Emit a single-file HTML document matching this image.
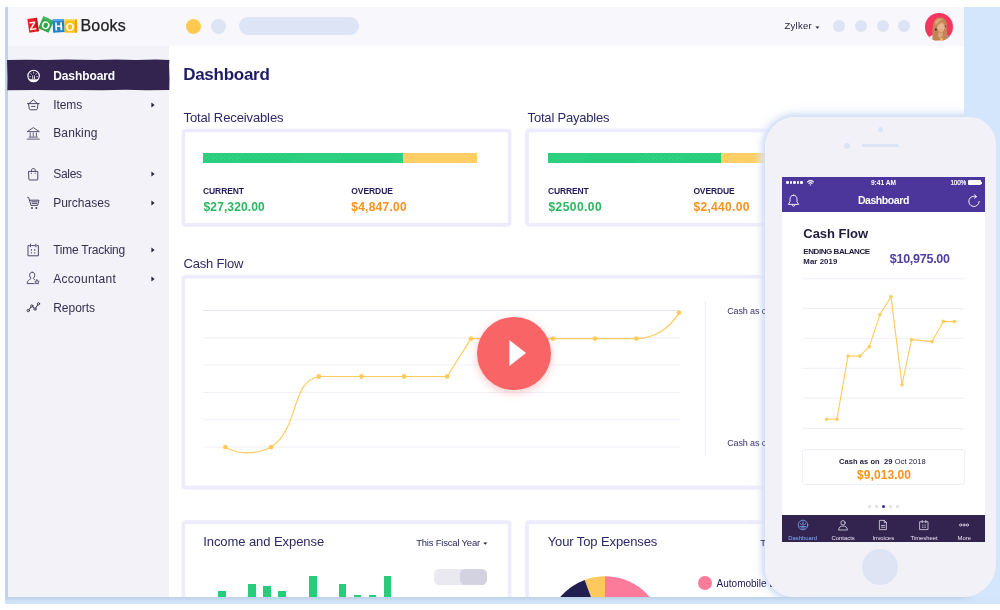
<!DOCTYPE html>
<html><head><meta charset="utf-8"><title>Zoho Books Dashboard</title>
<style>
html,body{margin:0;padding:0;background:#fff}
body{width:1000px;height:610px;position:relative;overflow:hidden;font-family:"Liberation Sans", sans-serif}
.abs{position:absolute;display:block}
.t{position:absolute;white-space:pre;font-family:"Liberation Sans", sans-serif;z-index:2}
#w{position:absolute;left:0;top:0;width:1000px;height:610px;will-change:transform}
</style></head><body><div id="w">
<div class="abs" style="left:5px;top:7px;width:995px;height:596px;background:#cfe2f6"></div>
<div class="abs" style="left:964px;top:7px;width:36px;height:596px;background:#d3e6fb"></div>
<div class="abs" style="left:5px;top:7px;width:3px;height:590px;background:#bfd4ea"></div>
<div class="abs" style="left:8px;top:7px;width:956px;height:590px;background:#fff"></div>
<div class="abs" style="left:8px;top:7px;width:956px;height:39px;background:#f7f7fc"></div>
<div class="abs" style="left:8px;top:46px;width:161px;height:551px;background:#f3f2f8"></div>
<svg class="abs" style="left:24px;top:12px" width="58" height="26" viewBox="0 0 58 26">
<g font-family='Liberation Sans' font-weight="700" font-size="11.5" fill="#fff" text-anchor="middle">
<g transform="translate(9.1,13.2) rotate(-8)"><rect x="-4.8" y="-6.9" width="9.6" height="13.8" fill="#e81d26"/><rect x="3.2" y="-6.9" width="1.6" height="13.8" fill="#bd141c"/><text x="-0.5" y="4.6">Z</text></g>
<g transform="translate(22,12.6) rotate(24)"><rect x="-5.7" y="-6.5" width="11.4" height="13" fill="#2fa84a"/><rect x="-5.7" y="-6.5" width="11.4" height="2" fill="#45b862"/><text x="0" y="4.6" font-size="11">O</text></g>
<g transform="translate(34.6,13.8) rotate(-3)"><rect x="-5.8" y="-6.6" width="11.6" height="13.2" fill="#2281c9"/><rect x="-5.8" y="-6.6" width="11.6" height="1.8" fill="#5aa7e0"/><text x="0" y="4.6">H</text></g>
<g transform="translate(46.8,14.1) rotate(0)"><rect x="-6.2" y="-6.6" width="12.4" height="13.2" fill="#fbc112"/><rect x="4.4" y="-6.6" width="1.8" height="13.2" fill="#f59a1b"/><rect x="-6.2" y="-6.6" width="10.6" height="1.4" fill="#fdd659"/><text x="-0.8" y="4.5" font-size="11">O</text></g>
</g></svg>
<div class="t" style="left:80.40px;top:17.00px;font-size:16px;line-height:17px;font-weight:400;color:#222;letter-spacing:0.233px;-webkit-text-stroke:0.25px #222;">Books</div>
<div class="abs" style="left:186px;top:18.5px;width:15px;height:15px;border-radius:50%;background:#ffc94f"></div>
<div class="abs" style="left:211px;top:18.5px;width:15px;height:15px;border-radius:50%;background:#dde4f5"></div>
<div class="abs" style="left:239px;top:17px;width:119.5px;height:18px;border-radius:9px;background:#dde4f5"></div>
<div class="t" style="left:784.50px;top:20.00px;font-size:9.5px;line-height:11px;font-weight:400;color:#26233f;letter-spacing:0.265px;">Zylker</div>
<svg class="abs" style="left:815.3px;top:25.7px" width="4.8" height="3" viewBox="0 0 6 4"><path d="M0.3 0.5H5.7L3 3.6Z" fill="#26233f"/></svg>
<div class="abs" style="left:833px;top:20px;width:12px;height:12px;border-radius:50%;background:#dde4f5"></div>
<div class="abs" style="left:855px;top:20px;width:12px;height:12px;border-radius:50%;background:#dde4f5"></div>
<div class="abs" style="left:876.5px;top:20px;width:12px;height:12px;border-radius:50%;background:#dde4f5"></div>
<div class="abs" style="left:898px;top:20px;width:12px;height:12px;border-radius:50%;background:#dde4f5"></div>
<svg class="abs" style="left:925px;top:12.7px" width="28" height="28" viewBox="0 0 28 28">
<defs><clipPath id="av"><circle cx="14" cy="14" r="14"/></clipPath><filter id="avb" x="-10%" y="-10%" width="120%" height="120%"><feGaussianBlur stdDeviation="0.45"/></filter></defs>
<g clip-path="url(#av)"><rect width="28" height="28" fill="#f8355d"/>
<g filter="url(#avb)">
<path d="M2.5 28L3.4 24.2L8.6 21.4L9.4 28Z" fill="#f8efe9"/>
<path d="M21.6 21.6L25 23.4L24 28H21.4Z" fill="#7d93cf"/>
<path d="M7.6 28C7.4 22 7 17 8 12C8.8 7.6 11 4.6 14.6 4.2C18.6 4 21.2 6.8 21.8 11C22.2 14.6 21.4 17.6 22.2 21C22.8 23.6 22.6 26 22 28Z" fill="#bf8556"/>
<path d="M10 9C11.4 6 15 5 18 6.4C16 6.6 12.6 8.6 10.6 13Z" fill="#d9a877"/>
<ellipse cx="15.9" cy="14.2" rx="3.7" ry="4.9" fill="#e8b48d"/>
<path d="M11.6 12.4C12.4 8.4 16.4 7.2 19.8 10C17.4 9.8 14 10.2 12 13.6Z" fill="#c8925f"/>
<path d="M13.4 19.6H18L17.4 23.4L15 25.6L13 23Z" fill="#dea57f"/>
<circle cx="10.9" cy="16.5" r="1" fill="#2b2830"/>
<circle cx="20.5" cy="13.2" r="0.6" fill="#3a3238"/>
<path d="M15.4 24.6L18.4 25.2L17.6 28H14.8Z" fill="#f0b054"/>
<path d="M13.4 16.4C14.6 17.4 16.8 17.4 18 16.4" stroke="#c98a6a" stroke-width="0.5" fill="none"/>
</g>
<rect y="27.2" width="28" height="1" fill="#f7f7fc" opacity="0.6"/>
</g></svg>
<svg class="abs" style="left:6px;top:58px" width="166" height="34" viewBox="0 0 166 34"><path d="M1 2.1 L20 1.7 L40 2 L60 1.6 L90 2.1 L110 1.6 L130 1.9 L150 1.5 L163.4 2 L163.1 8 L163.5 20 L163.3 31.9 L140 32.2 L120 31.8 L96 32.3 L70 31.9 L50 32.3 L30 32 L1.3 32.2 L1.5 20 Z" fill="#32244f"/></svg>
<div class="t" style="left:53.20px;top:69.00px;font-size:12px;line-height:14px;font-weight:700;color:#fff;letter-spacing:-0.086px;">Dashboard</div>
<div class="t" style="left:53.20px;top:98.00px;font-size:12px;line-height:14px;font-weight:400;color:#33304f;letter-spacing:-0.086px;">Items</div>
<svg class="abs" style="left:150.6px;top:101.7px" width="4" height="6" viewBox="0 0 4 6"><path d="M0.4 0.4L3.6 3L0.4 5.6Z" fill="#26233f"/></svg>
<div class="t" style="left:53.20px;top:126.00px;font-size:12px;line-height:14px;font-weight:400;color:#33304f;letter-spacing:0.146px;">Banking</div>
<div class="t" style="left:53.20px;top:167.00px;font-size:12px;line-height:14px;font-weight:400;color:#33304f;letter-spacing:-0.283px;">Sales</div>
<svg class="abs" style="left:150.6px;top:170.7px" width="4" height="6" viewBox="0 0 4 6"><path d="M0.4 0.4L3.6 3L0.4 5.6Z" fill="#26233f"/></svg>
<div class="t" style="left:53.20px;top:196.00px;font-size:12px;line-height:14px;font-weight:400;color:#33304f;">Purchases</div>
<svg class="abs" style="left:150.6px;top:199.7px" width="4" height="6" viewBox="0 0 4 6"><path d="M0.4 0.4L3.6 3L0.4 5.6Z" fill="#26233f"/></svg>
<div class="t" style="left:53.20px;top:243.00px;font-size:12px;line-height:14px;font-weight:400;color:#33304f;letter-spacing:-0.242px;">Time Tracking</div>
<svg class="abs" style="left:150.6px;top:246.7px" width="4" height="6" viewBox="0 0 4 6"><path d="M0.4 0.4L3.6 3L0.4 5.6Z" fill="#26233f"/></svg>
<div class="t" style="left:53.20px;top:272.00px;font-size:12px;line-height:14px;font-weight:400;color:#33304f;letter-spacing:0.284px;">Accountant</div>
<svg class="abs" style="left:150.6px;top:275.7px" width="4" height="6" viewBox="0 0 4 6"><path d="M0.4 0.4L3.6 3L0.4 5.6Z" fill="#26233f"/></svg>
<div class="t" style="left:53.20px;top:301.00px;font-size:12px;line-height:14px;font-weight:400;color:#33304f;letter-spacing:-0.022px;">Reports</div>
<svg class="abs" style="left:25.999999999999996px;top:68.5px" width="14.6" height="14.6" viewBox="0 0 14.6 14.6" fill="none" stroke="#fff" stroke-width="1" stroke-linecap="round" stroke-linejoin="round"><circle cx="7.6" cy="7" r="5.7" stroke-width="1.15"/><path d="M3 10.4H12.2A5.7 5.7 0 0 1 3 10.4Z" fill="#fff" stroke-width="0.5"/><path d="M7.6 3.2V4.2M4.8 4.6L5.3 5.3M10.4 4.6L9.9 5.3M3.8 7.6H4.4M10.8 7.6H11.4" stroke-width="0.7"/><path d="M6.7 6.8V9.6M8.5 6.8V9.6" stroke-width="0.8"/></svg>
<svg class="abs" style="left:25.999999999999996px;top:97.5px" width="14.6" height="14.6" viewBox="0 0 14.6 14.6" fill="none" stroke="#3a3759" stroke-width="0.9" stroke-linecap="round" stroke-linejoin="round"><path d="M1.4 5.6H13.2M2.6 5.8L3.2 10.6Q3.4 11.8 4.6 11.8H10Q11.2 11.8 11.4 10.6L12 5.8M3.2 5.4L7.3 1.8L11.4 5.4M5.6 8.4H9"/></svg>
<svg class="abs" style="left:25.999999999999996px;top:125.89999999999999px" width="14.6" height="14.6" viewBox="0 0 14.6 14.6" fill="none" stroke="#3a3759" stroke-width="0.8" stroke-linecap="round" stroke-linejoin="round"><path d="M1.6 5.4L7.3 1.6L13 5.4ZM4.2 6.8V10.2M7.3 6.8V10.2M10.4 6.8V10.2M3.2 11.1H11.4M1.2 13.1H13.4"/></svg>
<svg class="abs" style="left:25.999999999999996px;top:167.29999999999998px" width="14.6" height="14.6" viewBox="0 0 14.6 14.6" fill="none" stroke="#3a3759" stroke-width="0.9" stroke-linecap="round" stroke-linejoin="round"><path d="M2.9 4.4H11.8V12.4Q11.8 13 11.2 13H3.5Q2.9 13 2.9 12.4ZM5.5 4.2V3.2C5.5 0.9 9.2 0.9 9.2 3.2V4.2"/><path d="M5.4 6.2H5.5M9.1 6.2H9.2" stroke-width="1.1"/></svg>
<svg class="abs" style="left:25.999999999999996px;top:195.89999999999998px" width="14.6" height="14.6" viewBox="0 0 14.6 14.6" fill="none" stroke="#3a3759" stroke-width="0.9" stroke-linecap="round" stroke-linejoin="round"><path d="M1.6 1.4L2.8 1.8L5 9.4H11.6L13 4.2H3.8M5.8 5.8H11.2M6.2 7.4H10.8"/><circle cx="6" cy="12" r="0.9" fill="#33304f" stroke="none"/><circle cx="10.4" cy="12" r="0.9" fill="#33304f" stroke="none"/></svg>
<svg class="abs" style="left:25.999999999999996px;top:242.6px" width="14.6" height="14.6" viewBox="0 0 14.6 14.6" fill="none" stroke="#3a3759" stroke-width="0.9" stroke-linecap="round" stroke-linejoin="round"><path d="M3.4 2.6H2V12.8H12.4V2.6H11M5.6 2.6H8.8M4.5 1.2V3.8M9.9 1.2V3.8"/><path d="M5.4 7H5.5M8.7 7H8.8M5.4 9.8H5.5M8.7 9.8H8.8" stroke-width="1.3"/></svg>
<svg class="abs" style="left:25.999999999999996px;top:270.5px" width="14.6" height="14.6" viewBox="0 0 14.6 14.6" fill="none" stroke="#3a3759" stroke-width="0.9" stroke-linecap="round" stroke-linejoin="round"><path d="M6.2 1.2C4.4 1.2 3.6 2.6 3.6 4.2C3.6 5.6 4.2 6.6 5 7.2C5 8.4 1.2 8.6 1.2 12.6H8.2M6.2 1.2C8 1.2 8.8 2.6 8.8 4.2C8.8 5.6 8.2 6.6 7.4 7.2C7.4 7.8 8 8.2 8.8 8.6"/><path d="M11 8.8L11.7 10.2L13.2 10.4L12.1 11.4L12.4 12.9L11 12.2L9.6 12.9L9.9 11.4L8.8 10.4L10.3 10.2Z" stroke-width="0.8"/></svg>
<svg class="abs" style="left:25.999999999999996px;top:299.9px" width="14.6" height="14.6" viewBox="0 0 14.6 14.6" fill="none" stroke="#26233f" stroke-width="0.9" stroke-linecap="round" stroke-linejoin="round"><path d="M2.3 10.5L5.8 6L9 9.1L12.5 3.8" stroke-width="1"/><circle cx="2.3" cy="10.6" r="1.15" fill="#f3f2f8" stroke-width="0.85"/><circle cx="5.8" cy="6" r="1.15" fill="#f3f2f8" stroke-width="0.85"/><circle cx="9" cy="9.1" r="1.15" fill="#f3f2f8" stroke-width="0.85"/><circle cx="12.5" cy="3.8" r="1.15" fill="#f3f2f8" stroke-width="0.85"/></svg>
<div class="t" style="left:183.20px;top:65.00px;font-size:17px;line-height:19px;font-weight:700;color:#1e1a66;letter-spacing:-0.275px;">Dashboard</div>
<div class="t" style="left:183.50px;top:110.00px;font-size:13px;line-height:15px;font-weight:400;color:#2c2966;letter-spacing:-0.118px;">Total Receivables</div>
<div class="t" style="left:527.60px;top:110.00px;font-size:13px;line-height:15px;font-weight:400;color:#2c2966;letter-spacing:-0.197px;">Total Payables</div>
<svg class="abs" style="left:0;top:0" width="1000" height="610" viewBox="0 0 1000 610"><rect x="183.35" y="130.5" width="326.25" height="94.4" rx="2.2" fill="#fff" stroke="#ececfc" stroke-width="3.6"/></svg>
<svg class="abs" style="left:0;top:0" width="1000" height="610" viewBox="0 0 1000 610"><rect x="527" y="130.4" width="329" height="94.4" rx="2.2" fill="#fff" stroke="#ececfc" stroke-width="3.6"/></svg>
<div class="abs" style="left:203px;top:153px;width:200px;height:9.6px;background:repeating-linear-gradient(135deg,rgba(255,255,255,0.06) 0 1px,rgba(255,255,255,0) 1px 2.8px),#26ce7b"></div>
<div class="abs" style="left:403px;top:153px;width:74px;height:9.6px;background:#ffcf66"></div>
<div class="abs" style="left:547.5px;top:153px;width:173.5px;height:9.6px;background:repeating-linear-gradient(135deg,rgba(255,255,255,0.06) 0 1px,rgba(255,255,255,0) 1px 2.8px),#26ce7b"></div>
<div class="abs" style="left:721px;top:153px;width:100px;height:9.6px;background:#ffcf66"></div>
<div class="t" style="left:203.00px;top:186.00px;font-size:8.5px;line-height:10px;font-weight:700;color:#221d58;letter-spacing:-0.094px;">CURRENT</div>
<div class="t" style="left:203.60px;top:200.00px;font-size:12px;line-height:14px;font-weight:700;color:#2ab75f;letter-spacing:0.104px;">$27,320.00</div>
<div class="t" style="left:351.30px;top:186.00px;font-size:8.5px;line-height:10px;font-weight:700;color:#221d58;letter-spacing:-0.074px;">OVERDUE</div>
<div class="t" style="left:351.30px;top:200.00px;font-size:12px;line-height:14px;font-weight:700;color:#f7931e;letter-spacing:0.239px;">$4,847.00</div>
<div class="t" style="left:548.00px;top:186.00px;font-size:8.5px;line-height:10px;font-weight:700;color:#221d58;letter-spacing:-0.160px;">CURRENT</div>
<div class="t" style="left:548.40px;top:200.00px;font-size:12px;line-height:14px;font-weight:700;color:#2ab75f;letter-spacing:0.448px;">$2500.00</div>
<div class="t" style="left:693.40px;top:186.00px;font-size:8.5px;line-height:10px;font-weight:700;color:#221d58;letter-spacing:-0.141px;">OVERDUE</div>
<div class="t" style="left:693.40px;top:200.00px;font-size:12px;line-height:14px;font-weight:700;color:#f7931e;letter-spacing:0.326px;">$2,440.00</div>
<div class="t" style="left:183.60px;top:256.00px;font-size:13px;line-height:15px;font-weight:400;color:#2c2966;letter-spacing:-0.215px;">Cash Flow</div>
<svg class="abs" style="left:0;top:0" width="1000" height="610" viewBox="0 0 1000 610"><rect x="183.35" y="276.8" width="678.65" height="210.8" rx="2.2" fill="#fff" stroke="#ececfc" stroke-width="3.6"/></svg>
<svg class="abs" style="left:0;top:0" width="1000" height="610" viewBox="0 0 1000 610"><line x1="203.3" x2="680" y1="310.5" y2="310.5" stroke="#e3e3fa" stroke-width="1"/><line x1="203.3" x2="680" y1="337.8" y2="337.8" stroke="#eeeef8" stroke-width="1"/><line x1="203.3" x2="680" y1="365.1" y2="365.1" stroke="#eeeef8" stroke-width="1"/><line x1="203.3" x2="680" y1="392.4" y2="392.4" stroke="#eeeef8" stroke-width="1"/><line x1="203.3" x2="680" y1="419.7" y2="419.7" stroke="#eeeef8" stroke-width="1"/><line x1="203.3" x2="680" y1="447" y2="447" stroke="#eeeef8" stroke-width="1"/><line x1="705.4" x2="705.4" y1="301" y2="455.5" stroke="#ececf6" stroke-width="1"/><path d="M225.4 447.2 C238 454.5 256 455 271 447.2 C300 428 290 382 318.8 376.5 L447.2 376.5 L471 338.6 L636.4 338.6 C655 338 670 328 679 312.6" fill="none" stroke="#ffcc5c" stroke-width="1.2"/><circle cx="225.4" cy="447.2" r="2.4" fill="#ffcc5c"/><circle cx="271" cy="447.2" r="2.4" fill="#ffcc5c"/><circle cx="318.8" cy="376.5" r="2.4" fill="#ffcc5c"/><circle cx="361.5" cy="376.5" r="2.4" fill="#ffcc5c"/><circle cx="404" cy="376.5" r="2.4" fill="#ffcc5c"/><circle cx="447.2" cy="376.5" r="2.4" fill="#ffcc5c"/><circle cx="471" cy="338.6" r="2.4" fill="#ffcc5c"/><circle cx="553" cy="338.6" r="2.4" fill="#ffcc5c"/><circle cx="595" cy="338.6" r="2.4" fill="#ffcc5c"/><circle cx="636.4" cy="338.6" r="2.4" fill="#ffcc5c"/><circle cx="679" cy="312.6" r="2.4" fill="#ffcc5c"/></svg>
<div class="t" style="left:727.20px;top:306.00px;font-size:9px;line-height:10px;font-weight:400;color:#38346f;letter-spacing:-0.13px;">Cash as on</div>
<div class="t" style="left:727.20px;top:438.40px;font-size:9px;line-height:10px;font-weight:400;color:#38346f;letter-spacing:-0.13px;">Cash as on</div>
<div class="abs" style="left:477.3px;top:316.6px;width:73.4px;height:73.4px;border-radius:50%;background:#f96567;box-shadow:0 3px 8px rgba(249,101,103,0.35)"></div>
<svg class="abs" style="left:505px;top:336.4px" width="26" height="34" viewBox="0 0 26 34"><path d="M4.4 4L21 17L4.4 30Z" fill="#fff"/></svg>
<svg class="abs" style="left:0;top:0" width="1000" height="610" viewBox="0 0 1000 610"><rect x="183.35" y="522.1" width="326.25" height="97.5" rx="2.2" fill="#fff" stroke="#ececfc" stroke-width="3.6"/></svg>
<svg class="abs" style="left:0;top:0" width="1000" height="610" viewBox="0 0 1000 610"><rect x="527" y="522.1" width="329" height="97.5" rx="2.2" fill="#fff" stroke="#ececfc" stroke-width="3.6"/></svg>
<div class="t" style="left:203.20px;top:534.20px;font-size:13px;line-height:15px;font-weight:400;color:#2c2966;letter-spacing:-0.067px;">Income and Expense</div>
<div class="t" style="left:416.20px;top:537.00px;font-size:9.5px;line-height:11px;font-weight:400;color:#2a2764;letter-spacing:-0.204px;">This Fiscal Year</div>
<svg class="abs" style="left:483.2px;top:542.2px" width="4.6" height="3" viewBox="0 0 6 4"><path d="M0.3 0.5H5.7L3 3.6Z" fill="#26233f"/></svg>
<div class="abs" style="left:433.7px;top:569.2px;width:53.6px;height:15.8px;border-radius:5.5px;background:#eae9f2"></div>
<div class="abs" style="left:460.4px;top:569.2px;width:26.9px;height:15.8px;border-radius:5.5px;background:#d3d2e0"></div>
<div class="abs" style="left:218px;top:591px;width:7.6px;height:9px;background:#26ce7b"></div>
<div class="abs" style="left:248px;top:583.6px;width:7.6px;height:16.399999999999977px;background:#26ce7b"></div>
<div class="abs" style="left:263.4px;top:586.1px;width:7.6px;height:13.899999999999977px;background:#26ce7b"></div>
<div class="abs" style="left:278.4px;top:591px;width:7.6px;height:9px;background:#26ce7b"></div>
<div class="abs" style="left:309px;top:575.6px;width:7.6px;height:24.399999999999977px;background:#26ce7b"></div>
<div class="abs" style="left:338.6px;top:583.6px;width:7.6px;height:16.399999999999977px;background:#26ce7b"></div>
<div class="abs" style="left:353.7px;top:594.8px;width:7.6px;height:5.2000000000000455px;background:#26ce7b"></div>
<div class="abs" style="left:368.8px;top:594.8px;width:7.6px;height:5.2000000000000455px;background:#26ce7b"></div>
<div class="abs" style="left:383.9px;top:575.6px;width:7.6px;height:24.399999999999977px;background:#26ce7b"></div>
<div class="t" style="left:547.70px;top:534.40px;font-size:13px;line-height:15px;font-weight:400;color:#2c2966;letter-spacing:-0.107px;">Your Top Expenses</div>
<div class="t" style="left:760.30px;top:537.00px;font-size:9.5px;line-height:11px;font-weight:400;color:#2a2764;">This</div>
<svg class="abs" style="left:0;top:0" width="1000" height="610" viewBox="0 0 1000 610"><path d="M605 635 L605.00 576.30 A58.7 58.7 0 0 1 662.81 624.81 Z" fill="#fc7a9a"/><path d="M605 635 L584.68 579.93 A58.7 58.7 0 0 1 605.00 576.30 Z" fill="#ffc85c"/><path d="M605 635 L547.19 624.81 A58.7 58.7 0 0 1 584.68 579.93 Z" fill="#231e50"/></svg>
<div class="abs" style="left:697.8px;top:575.6px;width:14.2px;height:14.2px;border-radius:50%;background:#fc7a9a"></div>
<div class="t" style="left:716.60px;top:578.00px;font-size:10px;line-height:11px;font-weight:400;color:#26215c;">Automobile Expense</div>
<div class="abs" style="left:5px;top:597px;width:995px;height:6.8px;background:#d2e5fb"></div>
<div class="abs" style="left:5px;top:597px;width:970px;height:6.8px;background:linear-gradient(#bdd2e8 0,#c4d8ed 25%,#cee1f6 55%,#d2e5fb 100%);-webkit-mask-image:linear-gradient(90deg,#000 0,#000 955px,transparent 970px);mask-image:linear-gradient(90deg,#000 0,#000 955px,transparent 970px)"></div>
<div class="abs" style="left:0;top:603.8px;width:1000px;height:7px;background:#fff"></div>
<div class="abs" style="left:8px;top:7px;width:956px;height:590px;overflow:hidden;z-index:1"><div class="abs" style="left:757.4px;top:110.2px;width:230.4px;height:479.4px;border-radius:30px 27px 33px 29px;box-shadow:0 0 5px 1.5px rgba(204,217,241,0.95),0 0 10px 5px rgba(228,236,250,0.8)"></div></div>
<div class="abs" style="left:0;top:0;width:1000px;height:610px;z-index:3">
<div class="abs" style="left:765.4px;top:117.2px;width:230.4px;height:479.4px;border-radius:30px 27px 33px 29px;background:#f2f1f8"></div>
<div class="abs" style="left:877.5px;top:127.2px;width:5px;height:5px;border-radius:50%;background:#dce3f3"></div>
<div class="abs" style="left:844.1px;top:142.5px;width:6px;height:6px;border-radius:50%;background:#dce3f3"></div>
<div class="abs" style="left:862px;top:144px;width:36.5px;height:3px;border-radius:1.5px;background:#dce3f3"></div>
<div class="abs" style="left:782px;top:177.2px;width:203px;height:364.6px;background:#fff"></div>
<div class="abs" style="left:782px;top:177.2px;width:203px;height:34.8px;background:#4c369b"></div>
<div class="abs" style="left:786.0px;top:181px;width:2.7px;height:2.7px;border-radius:50%;background:#fff"></div>
<div class="abs" style="left:789.6px;top:181px;width:2.7px;height:2.7px;border-radius:50%;background:#fff"></div>
<div class="abs" style="left:793.2px;top:181px;width:2.7px;height:2.7px;border-radius:50%;background:#fff"></div>
<div class="abs" style="left:796.8px;top:181px;width:2.7px;height:2.7px;border-radius:50%;background:#fff"></div>
<div class="abs" style="left:800.4px;top:181px;width:2.7px;height:2.7px;border-radius:50%;background:#fff"></div>
<svg class="abs" style="left:806.5px;top:180px" width="7" height="6" viewBox="0 0 7 6" fill="none" stroke="#fff" stroke-width="1.1" stroke-linecap="round"><path d="M0.6 1.8C2.4 0.3 4.6 0.3 6.4 1.8M1.9 3.4C2.8 2.6 4.2 2.6 5.1 3.4"/><circle cx="3.5" cy="4.9" r="0.7" fill="#fff" stroke="none"/></svg>
<div class="t" style="left:870.88px;top:179.00px;font-size:6.6px;line-height:7px;font-weight:700;color:#fff;">9:41 AM</div>
<div class="t" style="left:950.50px;top:179.00px;font-size:6.4px;line-height:7px;font-weight:400;color:#fff;letter-spacing:-0.186px;-webkit-text-stroke:0.2px #fff;">100%</div>
<div class="abs" style="left:968.4px;top:180.3px;width:12.2px;height:4.5px;border-radius:1px;background:#fff"></div><div class="abs" style="left:980.9px;top:181.5px;width:1px;height:2px;background:#fff"></div>
<div class="t" style="left:857.90px;top:194.00px;font-size:10.5px;line-height:12px;font-weight:700;color:#fff;letter-spacing:-0.430px;">Dashboard</div>
<svg class="abs" style="left:787px;top:193.5px" width="13" height="14" viewBox="0 0 13 14" fill="none" stroke="#fff" stroke-width="0.9" stroke-linejoin="round" stroke-linecap="round"><path d="M6.5 1.2C4.2 1.2 3 3 3 5.2V7.6L1.4 10.4H11.6L10 7.6V5.2C10 3 8.8 1.2 6.5 1.2ZM5.2 11.4C5.6 12.6 7.4 12.6 7.8 11.4"/></svg>
<svg class="abs" style="left:966.6px;top:194.2px" width="14" height="14" viewBox="0 0 14 14" fill="none" stroke="#fff" stroke-width="0.9" stroke-linecap="round" stroke-linejoin="round"><path d="M9.2 2.6A5.2 5.2 0 1 0 12.2 7.4M7.6 0.8L9.6 2.6L7.4 4.2"/></svg>
<div class="t" style="left:803.30px;top:226.10px;font-size:13px;line-height:15px;font-weight:700;color:#1d1a3d;letter-spacing:-0.033px;">Cash Flow</div>
<div class="t" style="left:803.30px;top:247.00px;font-size:8px;line-height:9px;font-weight:700;color:#1d1a3d;letter-spacing:-0.435px;">ENDING BALANCE</div>
<div class="t" style="left:803.30px;top:257.00px;font-size:7.8px;line-height:9px;font-weight:700;color:#1d1a3d;letter-spacing:0.087px;">Mar 2019</div>
<div class="t" style="left:889.75px;top:252.00px;font-size:12.5px;line-height:14px;font-weight:700;color:#523ca0;letter-spacing:-0.257px;">$10,975.00</div>
<svg class="abs" style="left:0;top:0" width="1000" height="610" viewBox="0 0 1000 610"><line x1="802.5" x2="964" y1="278.7" y2="278.7" stroke="#eeeef8" stroke-width="1"/><line x1="802.5" x2="964" y1="308.4" y2="308.4" stroke="#eeeef8" stroke-width="1"/><line x1="802.5" x2="964" y1="338.3" y2="338.3" stroke="#eeeef8" stroke-width="1"/><line x1="802.5" x2="964" y1="368.3" y2="368.3" stroke="#eeeef8" stroke-width="1"/><line x1="802.5" x2="964" y1="398.2" y2="398.2" stroke="#eeeef8" stroke-width="1"/><line x1="802.5" x2="964" y1="428.4" y2="428.4" stroke="#eeeef8" stroke-width="1"/><polyline points="826.7,419.2 836.9,419.2 848,356.1 859.9,356.1 869.3,346.6 879.9,314.8 891,296.6 902,384.8 911.5,339.6 932,341.6 943.4,321.4 954.5,321.6" fill="none" stroke="#ffcc5c" stroke-width="1.1" stroke-linejoin="round"/><circle cx="826.7" cy="419.2" r="1.8" fill="#ffcc5c"/><circle cx="836.9" cy="419.2" r="1.8" fill="#ffcc5c"/><circle cx="848" cy="356.1" r="1.8" fill="#ffcc5c"/><circle cx="859.9" cy="356.1" r="1.8" fill="#ffcc5c"/><circle cx="869.3" cy="346.6" r="1.8" fill="#ffcc5c"/><circle cx="879.9" cy="314.8" r="1.8" fill="#ffcc5c"/><circle cx="891" cy="296.6" r="1.8" fill="#ffcc5c"/><circle cx="902" cy="384.8" r="1.8" fill="#ffcc5c"/><circle cx="911.5" cy="339.6" r="1.8" fill="#ffcc5c"/><circle cx="932" cy="341.6" r="1.8" fill="#ffcc5c"/><circle cx="943.4" cy="321.4" r="1.8" fill="#ffcc5c"/><circle cx="954.5" cy="321.6" r="1.8" fill="#ffcc5c"/></svg>
<div class="abs" style="left:802.4px;top:448.6px;width:162.8px;height:36.3px;border:1px solid #efeff7;border-radius:3px;box-sizing:border-box"></div>
<div class="t" style="left:838.95px;top:457.30px;font-size:7.5px;line-height:9px;font-weight:700;color:#1d1a3d;letter-spacing:0.082px;">Cash as on  29 <span style="font-weight:400">Oct 2018</span></div>
<div class="t" style="left:857.00px;top:467.70px;font-size:12px;line-height:14px;font-weight:700;color:#f7931e;letter-spacing:0.076px;">$9,013.00</div>
<div class="abs" style="left:868.1px;top:505.09999999999997px;width:3.2px;height:3.2px;border-radius:50%;background:#dcdcee"></div>
<div class="abs" style="left:874.9px;top:505.09999999999997px;width:3.2px;height:3.2px;border-radius:50%;background:#dcdcee"></div>
<div class="abs" style="left:881.5px;top:504.9px;width:3.6px;height:3.6px;border-radius:50%;background:#3d2a8c"></div>
<div class="abs" style="left:888.9px;top:505.09999999999997px;width:3.2px;height:3.2px;border-radius:50%;background:#dcdcee"></div>
<div class="abs" style="left:895.8px;top:505.09999999999997px;width:3.2px;height:3.2px;border-radius:50%;background:#dcdcee"></div>
<div class="abs" style="left:782px;top:515.4px;width:203px;height:26.4px;background:#32244f"></div>
<svg class="abs" style="left:796.6px;top:519px" width="12" height="12" viewBox="0 0 12 12" fill="none" stroke="#7fb2ff" stroke-width="0.75" stroke-linecap="round" stroke-linejoin="round"><circle cx="6" cy="6" r="4.8"/><path d="M6 2.8V6.4M3.6 4.6L4.3 5.6M8.4 4.6L7.7 5.6M3 7.6H9M4.6 9H7.4" stroke-width="0.8"/></svg>
<div class="t" style="left:788.19px;top:535.00px;font-size:5.9px;line-height:6px;font-weight:400;color:#7fb2ff;">Dashboard</div>
<svg class="abs" style="left:837.1px;top:519px" width="12" height="12" viewBox="0 0 12 12" fill="none" stroke="#e8e6f2" stroke-width="0.75" stroke-linecap="round" stroke-linejoin="round"><circle cx="6" cy="3.8" r="2.2"/><path d="M1.6 10.6C2 8 3.6 7 6 7C8.4 7 10 8 10.4 10.6Z"/></svg>
<div class="t" style="left:831.48px;top:535.00px;font-size:5.9px;line-height:6px;font-weight:400;color:#e8e6f2;">Contacts</div>
<svg class="abs" style="left:877.3px;top:519px" width="12" height="12" viewBox="0 0 12 12" fill="none" stroke="#e8e6f2" stroke-width="0.75" stroke-linecap="round" stroke-linejoin="round"><path d="M2.8 1.4H7.4L9.4 3.4V10.6H2.8ZM7.2 1.6V3.6H9.2M4.4 6.4H7.8M4.4 8.2H7.8"/></svg>
<div class="t" style="left:872.49px;top:535.00px;font-size:5.9px;line-height:6px;font-weight:400;color:#e8e6f2;">Invoices</div>
<svg class="abs" style="left:918.1px;top:519px" width="12" height="12" viewBox="0 0 12 12" fill="none" stroke="#e8e6f2" stroke-width="0.75" stroke-linecap="round" stroke-linejoin="round"><path d="M2 2.8H10V10.6H2ZM4.2 1.4V3.6M7.8 1.4V3.6"/><path d="M4.8 6H4.9M7.1 6H7.2M4.8 8.2H4.9M7.1 8.2H7.2" stroke-width="1.2"/></svg>
<div class="t" style="left:910.46px;top:535.00px;font-size:5.9px;line-height:6px;font-weight:400;color:#e8e6f2;">Timesheet</div>
<svg class="abs" style="left:958.3px;top:519px" width="12" height="12" viewBox="0 0 12 12" fill="none" stroke="#e8e6f2" stroke-width="0.75" stroke-linecap="round" stroke-linejoin="round"><circle cx="2.6" cy="6" r="1.1"/><circle cx="6" cy="6" r="1.1"/><circle cx="9.4" cy="6" r="1.1"/></svg>
<div class="t" style="left:957.59px;top:535.00px;font-size:5.9px;line-height:6px;font-weight:400;color:#e8e6f2;">More</div>
<div class="abs" style="left:862px;top:549px;width:36px;height:36px;border-radius:50%;background:#dfe4f5"></div>
</div>
</div></body></html>
